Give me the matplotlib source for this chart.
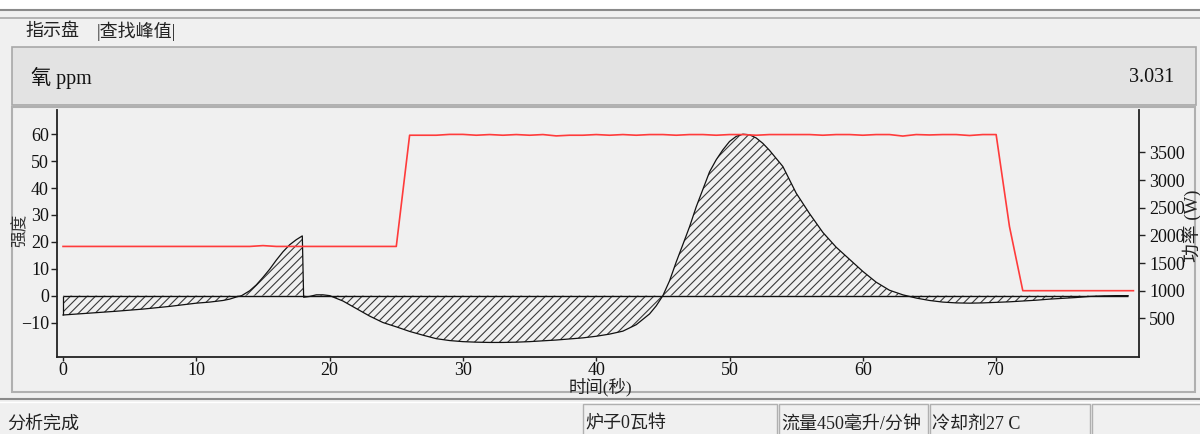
import matplotlib
matplotlib.use('Agg')
import matplotlib.pyplot as plt
from matplotlib.patches import Rectangle
from matplotlib.lines import Line2D

# ---------------- data ----------------
time_s = [0, 2, 4, 6, 8, 10, 11, 12, 12.5, 13, 13.4, 14, 14.5, 15, 15.5, 16, 16.5, 17, 17.5,
          17.95, 18.05, 18.5, 19, 19.5, 20, 21, 22, 23, 24, 25, 26, 27, 28, 29, 30, 31, 32, 33,
          34, 35, 36, 37, 38, 39, 40, 41, 42, 43, 44, 44.5, 45, 45.5, 46, 46.5, 47, 47.5, 48,
          48.5, 49, 49.5, 50, 50.5, 51, 51.5, 52, 52.5, 53, 53.5, 54, 55, 56, 57, 58, 59, 60,
          61, 62, 63, 64, 65, 66, 67, 68, 69, 70, 71, 72, 73, 74, 75, 76, 77, 78, 79, 79.9]
intensity = [-7.2, -6.5, -5.8, -5.0, -4.0, -2.8, -2.4, -1.8, -1.3, -0.5, 0.0, 1.8, 4.0, 6.8, 9.8,
             13.2, 16.3, 18.9, 20.8, 22.2, -0.6, -0.3, 0.3, 0.3, 0.0, -2.0, -4.8, -7.6, -10.0,
             -11.6, -13.3, -14.7, -16.0, -16.7, -17.1, -17.3, -17.4, -17.4, -17.3, -17.1, -16.8,
             -16.5, -16.1, -15.7, -15.1, -14.3, -13.2, -10.8, -6.8, -3.8, 0.0, 5.5, 12.5, 19.0,
             25.6, 33.0, 39.5, 46.0, 50.5, 54.2, 57.3, 59.2, 60.0, 59.8, 58.6, 56.6, 54.0, 51.0,
             48.0, 38.1, 30.5, 23.5, 18.0, 13.5, 9.0, 5.0, 2.0, 0.3, -0.9, -1.8, -2.4, -2.7,
             -2.8, -2.7, -2.5, -2.3, -2.0, -1.7, -1.3, -1.0, -0.7, -0.3, -0.1, 0.0, 0.0]

power_t = [0, 1, 2, 3, 4, 5, 6, 7, 8, 9, 10, 11, 12, 13, 14, 15, 16, 17, 18, 19, 20, 21, 22, 23,
           24, 25, 26, 27, 28, 29, 30, 31, 32, 33, 34, 35, 36, 37, 38, 39, 40, 41, 42, 43, 44,
           45, 46, 47, 48, 49, 50, 51, 52, 53, 54, 55, 56, 57, 58, 59, 60, 61, 62, 63, 64, 65,
           66, 67, 68, 69, 70, 71, 72, 73, 74, 75, 76, 77, 78, 79, 80.3]
power_w = [1800, 1800, 1800, 1800, 1800, 1800, 1800, 1800, 1800, 1800, 1800, 1800, 1800, 1800,
           1800, 1815, 1800, 1800, 1800, 1800, 1800, 1800, 1800, 1800, 1800, 1800,
           3810, 3810, 3810, 3825, 3825, 3810, 3822, 3810, 3822, 3810, 3822, 3798, 3810, 3810,
           3822, 3810, 3822, 3810, 3822, 3822, 3810, 3822, 3822, 3810, 3822, 3822, 3810, 3822,
           3822, 3822, 3822, 3810, 3822, 3822, 3810, 3822, 3822, 3795, 3822, 3815, 3822, 3822,
           3805, 3822, 3822, 2160, 1000, 1000, 1000, 1000, 1000, 1000, 1000, 1000, 1000]

x_ticks = [0, 10, 20, 30, 40, 50, 60, 70]
left_ticks = [-10, 0, 10, 20, 30, 40, 50, 60]
right_ticks = [500, 1000, 1500, 2000, 2500, 3000, 3500]

# ---------------- style ----------------
plt.rcParams['font.family'] = ['Liberation Serif', 'Noto Sans CJK SC']
plt.rcParams['axes.unicode_minus'] = True
plt.rcParams['hatch.linewidth'] = 0.8
plt.rcParams['hatch.color'] = '#333333'

W, H = 1200, 434
fig = plt.figure(figsize=(12, 4.34), dpi=100, facecolor='#f0f0f0')


def fx(x):
    return x / W


def fy(y):
    return 1 - y / H


def rect(x0, y0, x1, y1, fc='none', ec='none', lw=1.0, z=-2):
    fig.add_artist(Rectangle((fx(x0), fy(y1)), fx(x1) - fx(x0), fy(y0) - fy(y1),
                             transform=fig.transFigure, facecolor=fc, edgecolor=ec,
                             lw=lw, zorder=z))


def hline(x0, x1, y, c, lw=1.0):
    fig.add_artist(Line2D([fx(x0), fx(x1)], [fy(y), fy(y)], transform=fig.transFigure,
                          color=c, lw=lw, zorder=-1))


# window decorations
rect(0, 0, 1200, 9, fc='white', z=-3)
hline(0, 1200, 10, '#8a8a8a', 1.5)
hline(0, 1200, 18, '#a8a8a8', 1.2)

fig.text(fx(25), fy(31), '指示盘', fontsize=13, color='#222222', va='center', ha='left')
fig.text(fx(97), fy(31), '|查找峰值|', fontsize=13, color='#222222', va='center', ha='left')

# header panel
rect(12, 47, 1196, 105, fc='#e3e3e3', ec='#a8a8a8', lw=1.2)
fig.text(fx(31), fy(78), '氧 ppm', fontsize=14.5, color='#111111', va='center', ha='left')
fig.text(fx(1174), fy(78), '3.031', fontsize=14.5, color='#111111', va='center', ha='right')

# plot panel
rect(12, 107, 1195, 392, fc='#f0f0f0', ec='#b0b0b0', lw=1.5)

# status bar
hline(0, 1200, 399, '#8a8a8a', 1.5)
hline(0, 1200, 401.5, '#ffffff', 1.0)
rect(583, 404, 777, 440, ec='#b0b0b0', lw=1.0)
rect(779, 404, 928, 440, ec='#b0b0b0', lw=1.0)
rect(930, 404, 1090, 440, ec='#b0b0b0', lw=1.0)
rect(1092, 404, 1205, 440, ec='#b0b0b0', lw=1.0)
fig.text(fx(7), fy(424), '分析完成', fontsize=13, color='#222222', va='center', ha='left')
fig.text(fx(585), fy(424), '炉子0瓦特', fontsize=13, color='#222222', va='center', ha='left')
fig.text(fx(781), fy(424), '流量450毫升/分钟', fontsize=13, color='#222222', va='center', ha='left')
fig.text(fx(932), fy(424), '冷却剂27 C', fontsize=13, color='#222222', va='center', ha='left')

# ---------------- axes ----------------
ax_l, ax_r, ax_t, ax_b = 57.3, 1139.3, 110, 356.7
ax = fig.add_axes([fx(ax_l), fy(ax_b), (ax_r - ax_l) / W, (ax_b - ax_t) / H])
ax.set_facecolor('none')
ax2 = ax.twinx()
ax2.set_facecolor('none')

ax.fill_between(time_s, intensity, 0, facecolor='none', edgecolor='#3a3a3a',
                hatch='////', linewidth=0)
ax.plot(time_s, intensity, color='#111111', lw=0.9)
ax.vlines(time_s[0], intensity[0], 0, color='#111111', lw=0.9)
ax.hlines(0, time_s[0], time_s[-1], color='#111111', lw=1.0)

ax2.plot(power_t, power_w, color='#ff3b3b', lw=1.2)

ax.set_xlim(-0.43, 80.74)
ax.set_ylim(-22.7, 69.0)
ax2.set_ylim(-193, 4266)

ax.set_xticks(x_ticks)
ax.set_yticks(left_ticks)
ax2.set_yticks(right_ticks)

for a in (ax, ax2):
    a.spines['top'].set_visible(False)
ax.spines['right'].set_visible(False)
ax2.spines['left'].set_visible(False)
ax2.spines['bottom'].set_visible(False)
for s in ('left', 'bottom'):
    ax.spines[s].set_color('#222222')
    ax.spines[s].set_linewidth(1.3)
ax2.spines['right'].set_color('#222222')
ax2.spines['right'].set_linewidth(1.3)

ax.tick_params(axis='y', direction='out', length=4, width=1, labelsize=13, pad=2,
               colors='#222222', labelcolor='#111111')
ax.tick_params(axis='x', direction='out', length=3, width=1, labelsize=13, pad=1,
               colors='#222222', labelcolor='#111111')
ax2.tick_params(axis='y', direction='out', length=4, width=1, labelsize=13, pad=3,
                colors='#222222', labelcolor='#111111')

fig.text(fx(21), fy(230), '强度', fontsize=12, color='#333333', rotation=90,
         va='center', ha='center')
fig.text(fx(1192), fy(226), '功率 (W)', fontsize=13.5, color='#222222', rotation=90,
         va='center', ha='center')
fig.text(fx(600), fy(387), '时间(秒)', fontsize=12.5, color='#222222', va='center',
         ha='center')

fig.savefig('out.png', dpi=100, facecolor=fig.get_facecolor())
